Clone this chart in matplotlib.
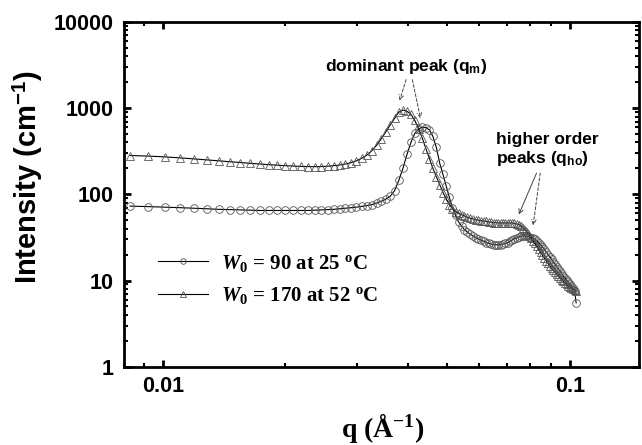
import matplotlib
matplotlib.use("Agg")
import matplotlib.pyplot as plt
from matplotlib.lines import Line2D

plt.rcParams['font.family'] = ['Liberation Sans', 'DejaVu Sans']
plt.rcParams['mathtext.fontset'] = 'custom'
plt.rcParams['mathtext.rm'] = 'Liberation Serif:bold'
plt.rcParams['mathtext.it'] = 'Liberation Serif:bold:italic'
plt.rcParams['mathtext.bf'] = 'Liberation Serif:bold'
plt.rcParams['mathtext.sf'] = 'Liberation Sans:bold'

q = [0.0083, 0.0092, 0.0101, 0.0110, 0.0119, 0.0128, 0.0137, 0.0146, 0.0155, 0.0164,
     0.0173, 0.0182, 0.0191, 0.0200, 0.0209, 0.0218, 0.0227, 0.0236, 0.0245, 0.0254,
     0.0263, 0.0272, 0.0281, 0.0290, 0.0299, 0.0308, 0.0317, 0.0326, 0.0335, 0.0344,
     0.0353, 0.0362, 0.0371, 0.0380, 0.0389, 0.0398, 0.0407, 0.0416, 0.0425, 0.0434,
     0.0443, 0.0452, 0.0461, 0.0470, 0.0479, 0.0488, 0.0497, 0.0506, 0.0515, 0.0524,
     0.0533, 0.0542, 0.0551, 0.0560, 0.0569, 0.0578, 0.0587, 0.0596, 0.0605, 0.0614,
     0.0623, 0.0632, 0.0641, 0.0650, 0.0659, 0.0668, 0.0677, 0.0686, 0.0695, 0.0704,
     0.0713, 0.0722, 0.0731, 0.0740, 0.0749, 0.0758, 0.0767, 0.0776, 0.0785, 0.0794,
     0.0803, 0.0812, 0.0821, 0.0830, 0.0839, 0.0848, 0.0857, 0.0866, 0.0875, 0.0884,
     0.0893, 0.0902, 0.0911, 0.0920, 0.0929, 0.0938, 0.0947, 0.0956, 0.0965, 0.0974,
     0.0983, 0.0992, 0.1001, 0.1010, 0.1019, 0.1028, 0.1037]

I_w90 = [73, 72, 71, 70, 69, 68, 67, 66.5, 66, 65.5,
         65, 65, 65, 65, 65, 65, 65, 65.5, 66, 66.5,
         67, 68, 69, 70, 71, 72.5, 74, 76, 79, 83,
         88, 95, 110, 145, 200, 290, 400, 510, 570, 600,
         595, 560, 470, 350, 230, 170, 125, 92, 70, 57,
         48, 43, 39, 36.5, 34.5, 33, 31.5, 30.5, 29.5, 28.5,
         27.5, 27, 26.5, 26, 26, 26, 26, 26.5, 27, 27.5,
         28.5, 29.5, 30.5, 31, 32, 32.5, 33, 33, 32.5, 32,
         31.5, 31, 30, 29, 27.5, 26, 24.5, 23, 21.5, 20,
         18.8, 17.6, 16.5, 15.5, 14.5, 13.6, 12.8, 12, 11.3, 10.7,
         10.1, 9.6, 9.1, 8.6, 8.1, 7.6, 5.5]

I_w170 = [282, 278, 272, 265, 258, 251, 245, 239, 234, 229,
          225, 221, 218, 215, 213, 211, 210, 209.5, 210, 212,
          215, 219, 225, 233, 245, 262, 285, 320, 370, 440,
          530, 640, 760, 900, 950, 920, 850, 720, 580, 450,
          340, 260, 200, 160, 130, 105, 88, 76, 68, 63,
          60, 58, 56, 54.5, 53, 52, 51, 50, 49.5, 49,
          48.5, 48, 47.5, 47, 47, 46.5, 46.5, 46.5, 46.5, 46.5,
          46.5, 46.5, 46, 45.5, 44.5, 43, 41, 39, 36.5, 34,
          31.5, 29, 27, 25, 23, 21.2, 19.6, 18.2, 17, 15.8,
          14.8, 13.9, 13.1, 12.4, 11.8, 11.2, 10.7, 10.2, 9.8, 9.4,
          9.0, 8.7, 8.4, 8.1, 7.9, 7.7, 7.5]

labels = [r'$W_0$ = 90 at 25 $^{\rm o}$C', r'$W_0$ = 170 at 52 $^{\rm o}$C']

fig = plt.figure(figsize=(6.42, 4.45), dpi=100)
ax = fig.add_axes([0.1924, 0.176, 0.8029, 0.7746])

mk = dict(mfc='none', mec='#555555', mew=0.6, ms=5.5, color='black', lw=0.8)
ax.plot(q, I_w90, marker='o', **mk)
ax.plot(q, I_w170, marker='^', **mk)

ax.set_xscale('log')
ax.set_yscale('log')
ax.set_xlim(0.008, 0.148)
ax.set_ylim(1, 10000)

ax.set_xticks([0.01, 0.1])
ax.set_xticklabels(['0.01', '0.1'])
ax.set_yticks([1, 10, 100, 1000, 10000])
ax.set_yticklabels(['1', '10', '100', '1000', '10000'])

for s in ax.spines.values():
    s.set_linewidth(2)
ax.tick_params(which='major', direction='in', length=5, width=2, top=True, right=True,
               labelsize=15.5, pad=7)
ax.tick_params(which='minor', direction='in', length=3, width=1.5, top=True, right=True)
for t in ax.get_xticklabels() + ax.get_yticklabels():
    t.set_fontweight('bold')

ax.set_ylabel('Intensity (cm$^{\\mathsf{-1}}$)', fontsize=21, fontweight='bold')
ax.yaxis.set_label_coords(-0.152, 0.55)
ax.set_xlabel(r'q ($\rm\AA^{-1}$)', fontsize=20,
              fontfamily='Liberation Serif', fontweight='bold')
ax.xaxis.set_label_coords(0.503, -0.128)

handles = [Line2D([], [], color='black', lw=0.8, marker='o', mfc='none', mec='#555555', ms=4, mew=0.6),
           Line2D([], [], color='black', lw=0.8, marker='^', mfc='none', mec='#555555', ms=4, mew=0.6)]
ax.legend(handles, labels, loc='upper left', bbox_to_anchor=(0.03, 0.385), frameon=False,
          prop={'family': 'Liberation Serif', 'weight': 'bold', 'size': 15},
          handlelength=2.4, handletextpad=0.65, labelspacing=0.55)

ax.text(0.0396, 3040, 'dominant peak (q$_{\\mathsf{m}}$)', fontsize=12.5, fontweight='bold',
        ha='center', va='center')
ax.text(0.0660, 330, 'higher order\npeaks (q$_{\\mathsf{ho}}$)', fontsize=12.5, fontweight='bold',
        ha='left', va='center', linespacing=1.15)

arr = dict(arrowstyle='->', color='#444444', lw=0.7, mutation_scale=8)
ax.annotate('', xy=(0.0380, 1140), xytext=(0.0398, 2300),
            arrowprops=dict(linestyle=(0, (3, 2)), **arr))
ax.annotate('', xy=(0.0431, 707), xytext=(0.0409, 2300),
            arrowprops=dict(linestyle=(0, (3, 2)), **arr))
ax.annotate('', xy=(0.0745, 54.5), xytext=(0.0834, 189), arrowprops=dict(**arr))
ax.annotate('', xy=(0.0811, 40.6), xytext=(0.0848, 189),
            arrowprops=dict(linestyle=(0, (3, 2)), **arr))

fig.savefig('out.png', dpi=100)
